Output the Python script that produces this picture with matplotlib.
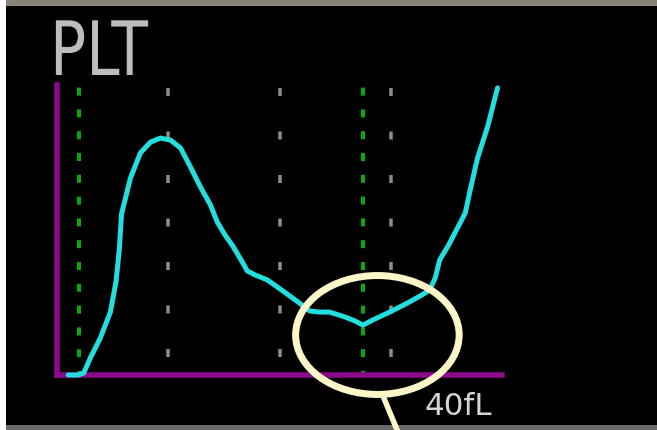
import matplotlib
matplotlib.use('Agg')
import matplotlib.pyplot as plt
import matplotlib.patheffects as pe
from matplotlib.patches import Ellipse, Rectangle
from matplotlib.transforms import Affine2D

plt.rcParams['lines.scale_dashes'] = False

# PLT volume histogram (fL vs relative count)
volume_fl = [1.0, 1.9, 2.4, 3.0, 3.9, 4.8, 5.3, 5.6, 5.8, 6.6, 7.5, 8.4, 9.3,
             10.2, 11.1, 12.0, 12.9, 13.8, 14.4, 15.1, 15.8, 16.5, 17.1, 17.8,
             18.9, 20.3, 21.8, 22.7, 23.6, 24.5, 25.9, 26.8, 27.5, 28.4, 29.9,
             31.5, 32.8, 33.5, 34.0, 34.4, 35.2, 36.0, 36.7, 37.1, 37.8, 38.7, 39.6]
counts = [0.0, 0.0, 0.7, 5.9, 12.8, 21.7, 32.1, 43.1, 55.5, 67.9, 76.6, 80.3, 81.7,
          81.0, 78.3, 71.7, 64.8, 58.6, 52.8, 48.3, 44.5, 40.0, 35.9, 34.5,
          32.8, 29.0, 24.8, 22.1, 21.7, 21.7, 20.0, 18.6, 17.2, 19.0, 21.7,
          24.8, 27.6, 29.3, 33.5, 39.7, 44.8, 50.7, 55.9, 63.1, 74.8, 85.5, 99.0]

discriminators = [2.0, 27.5]
grid_fl = [10, 20, 30]
x_max_label = '40fL'

W, H = 657, 430
PX = 72 / 100  # points per pixel


class Squeeze(pe.AbstractPathEffect):
    """Narrow the glyphs horizontally about a fixed display x."""
    def __init__(self, sx, x0):
        super().__init__()
        self.sx, self.x0 = sx, x0

    def draw_path(self, renderer, gc, tpath, affine, rgbFace=None):
        aff = affine + Affine2D().translate(-self.x0, 0).scale(self.sx, 1).translate(self.x0, 0)
        renderer.draw_path(gc, tpath, aff, rgbFace)


fig = plt.figure(figsize=(W / 100, H / 100), dpi=100, facecolor='white')

# monitor frame: black screen with grey bezel edges
fig.patches.append(Rectangle((6 / W, 0), 1 - 6 / W, 1, transform=fig.transFigure,
                             facecolor='black', edgecolor='none', zorder=-2))
fig.patches.append(Rectangle((6 / W, 1 - 6 / H), 1 - 6 / W, 6 / H, transform=fig.transFigure,
                             facecolor='#8a8476', edgecolor='none', zorder=-1))
fig.patches.append(Rectangle((6 / W, 0), 1 - 6 / W, 5 / H, transform=fig.transFigure,
                             facecolor='#6a6a6a', edgecolor='none', zorder=-1))

ax = fig.add_axes([57 / W, 55 / H, 445 / W, 290 / H])
ax.set_facecolor('none')
ax.set_xlim(0, 40)
ax.set_ylim(0, 100)
ax.set_xticks([])
ax.set_yticks([])
for s in ['top', 'right']:
    ax.spines[s].set_visible(False)
for s in ['left', 'bottom']:
    ax.spines[s].set_color('#8c0a8c')
    ax.spines[s].set_linewidth(5.5 * PX)
    ax.spines[s].set_capstyle('projecting')

for x in grid_fl:
    ax.plot([x, x], [0, 100], color='#8c8c8c', lw=3.5 * PX, clip_on=False,
            linestyle=(25.5 * PX, (8 * PX, 35.5 * PX)), zorder=1)
for x in discriminators:
    ax.plot([x, x], [0, 100], color='#0aa80a', lw=4 * PX, clip_on=False,
            linestyle=(4 * PX, (8 * PX, 13.8 * PX)), zorder=1)

ax.plot(volume_fl, counts, color='#22dede', lw=5 * PX, solid_joinstyle='round',
        solid_capstyle='round', clip_on=False, zorder=3)

# highlight around the upper discriminator
ring = '#fbf6c8'
ax.add_patch(Ellipse((28.8, 13.8), 14.7, 41.0, facecolor='none', edgecolor=ring,
                     lw=7 * PX, clip_on=False, zorder=5))
ax.plot([29.3, 30.65], [-7.2, -19.7], color=ring, lw=5.5 * PX, clip_on=False, zorder=5)

fig.text(50 / W, (H - 75) / H, 'PLT', color='#bdbdbd', fontsize=75 * PX,
         va='baseline', ha='left', path_effects=[Squeeze(0.80, 50)])
fig.text(424 / W, (H - 415) / H, x_max_label, color='#d4d4d4', fontsize=31 * PX,
         va='baseline', ha='left')

fig.savefig('out.png', dpi=100, facecolor=fig.get_facecolor())
